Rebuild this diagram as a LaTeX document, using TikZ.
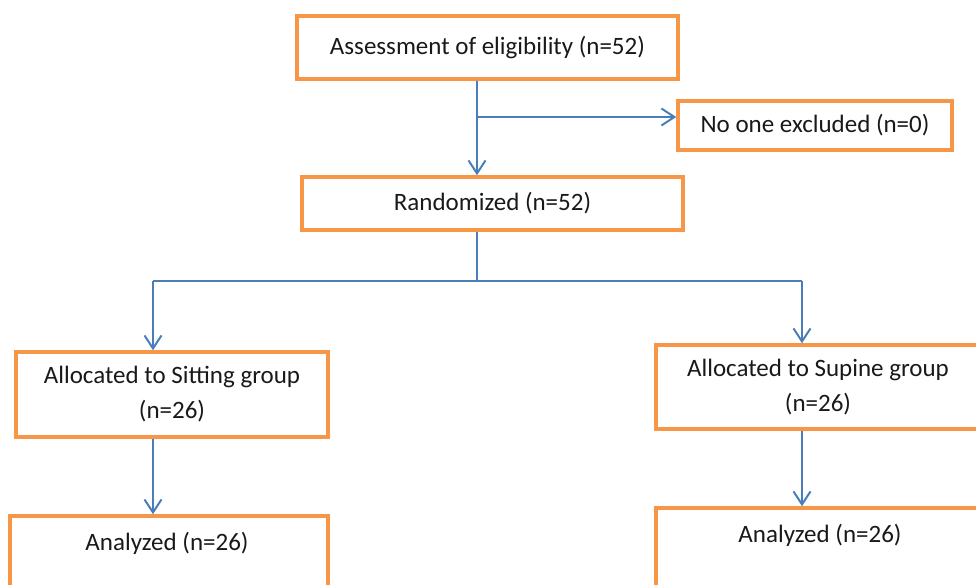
\documentclass[tikz,border=0pt]{standalone}
\usepackage{fontspec}
\setmainfont{Carlito}
\usetikzlibrary{arrows.meta}
\definecolor{boxorange}{HTML}{F79646}
\definecolor{lineblue}{HTML}{4A7EBB}
\begin{document}
\begin{tikzpicture}[x=1pt,y=-1pt,
 box/.style={draw=boxorange, line width=3.5pt, rectangle, inner sep=0pt, align=center, font=\fontsize{25}{35}\selectfont, text=black!90},
 conn/.style={draw=lineblue, line width=2pt, -{Straight Barb[length=13pt,width=17pt,line width=2pt]}},
 plain/.style={draw=lineblue, line width=2pt},
 lbl/.style={font=\fontsize{25}{35}\selectfont, text=black!90, inner sep=0pt, align=center}]
\useasboundingbox (0,0) rectangle (976,585);
\clip (0,0) rectangle (976,585);
\node[box, minimum width=381pt, minimum height=63pt] (assess) at (487.5,47.5) {Assessment of eligibility (n=52)};
\node[box, minimum width=274pt, minimum height=49pt] (excl) at (815,125.5) {No one excluded (n=0)};
\node[box, minimum width=381pt, minimum height=53pt] (rand) at (492.5,203.5) {Randomized (n=52)};
\node[box, minimum width=312pt, minimum height=85pt] (lalloc) at (172,394.5) {Allocated to Sitting group\\(n=26)};
\node[box, minimum width=324pt, minimum height=84pt] (ralloc) at (818,387) {Allocated to Supine group\\(n=26)};
\node[box, minimum width=318pt, minimum height=124pt] (lanal) at (169,578) {};
\node[box, minimum width=324pt, minimum height=132pt] (ranal) at (818,574) {};
\node[lbl] (lanaltext) at (167,543) {Analyzed (n=26)};
\node[lbl] (ranaltext) at (820,535) {Analyzed (n=26)};
\coordinate (c1) at (477,0);
\coordinate (br1) at (477,117);
\coordinate (split) at (477,281);
\coordinate (cl) at (153,281);
\coordinate (cr) at (802,281);
\draw[conn] (assess.south -| c1) -- (rand.north -| c1);
\draw[conn] (br1) -- (br1 -| excl.west);
\draw[plain] (rand.south -| split) -- (split);
\draw[plain] (cl) -- (cr);
\draw[conn] (cl) -- (cl |- lalloc.north);
\draw[conn] (cr) -- (cr |- ralloc.north);
\draw[conn] (lalloc.south -| cl) -- (lanal.north -| cl);
\draw[conn] (ralloc.south -| cr) -- (ranal.north -| cr);
\end{tikzpicture}
\end{document}
